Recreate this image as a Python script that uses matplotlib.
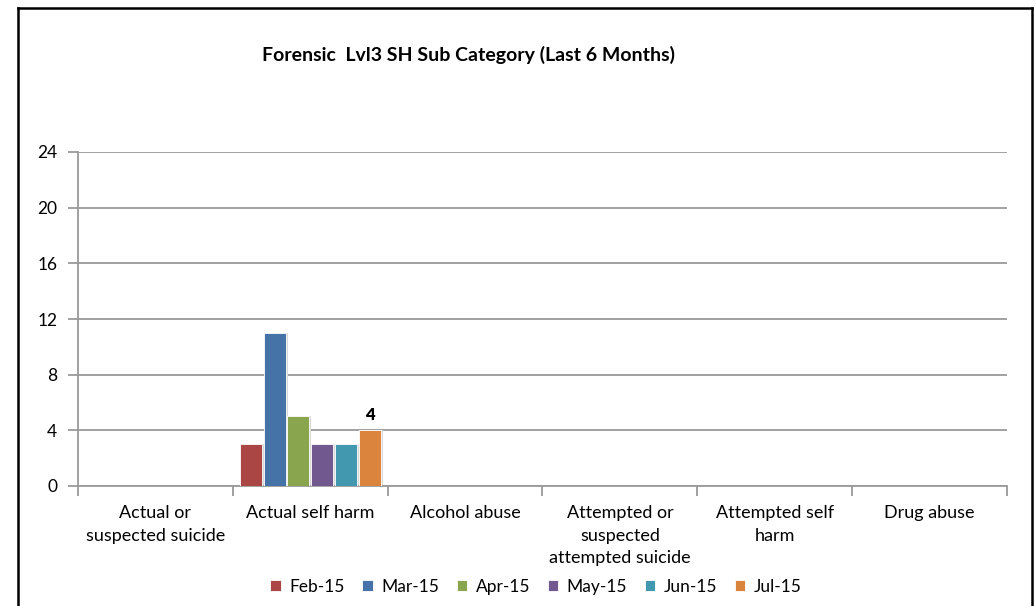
import matplotlib
matplotlib.use("Agg")
import matplotlib.pyplot as plt
from matplotlib.lines import Line2D
import numpy as np

plt.rcParams['font.family'] = ['Lato', 'DejaVu Sans']

categories = ["Actual or\nsuspected suicide", "Actual self harm", "Alcohol abuse",
              "Attempted or\nsuspected\nattempted suicide", "Attempted self\nharm", "Drug abuse"]
months = ["Feb-15", "Mar-15", "Apr-15", "May-15", "Jun-15", "Jul-15"]
values = {
    "Feb-15": [0, 3, 0, 0, 0, 0],
    "Mar-15": [0, 11, 0, 0, 0, 0],
    "Apr-15": [0, 5, 0, 0, 0, 0],
    "May-15": [0, 3, 0, 0, 0, 0],
    "Jun-15": [0, 3, 0, 0, 0, 0],
    "Jul-15": [0, 4, 0, 0, 0, 0],
}
colors = ["#AA4643", "#4572A7", "#89A54E", "#71588F", "#4198AF", "#DB843D"]
yticks = [0, 4, 8, 12, 16, 20, 24]

fig = plt.figure(figsize=(10.36, 6.06), dpi=100)
ax = fig.add_axes([78/1036, 1-486/606, (1007-78)/1036, (486-152)/606])

n = len(months)
group_w = 0.92
bw = group_w / n
x = np.arange(len(categories))
for i, m in enumerate(months):
    pos = x - group_w/2 + bw*(i+0.5)
    vals = values[m]
    ax.bar(pos + 0.012, vals, width=bw*0.93, color="#d8d8d8", zorder=2)
    ax.bar(pos, vals, width=bw*0.93, color=colors[i], edgecolor="white",
           linewidth=0.6, zorder=3, label=m)
    if m == "Jul-15":
        for p, v in zip(pos, vals):
            if v > 0:
                ax.text(p, v + 0.55, str(v), ha="center", va="bottom",
                        fontsize=12, fontweight="heavy", zorder=4)

ax.set_xlim(-0.5, len(categories) - 0.5)
ax.set_ylim(0, 24)
ax.set_yticks(yticks)
ax.yaxis.grid(True, color="#9a9a9a", linewidth=1.3, zorder=0)
ax.set_axisbelow(True)
for s in ["top", "right"]:
    ax.spines[s].set_visible(False)
ax.spines["left"].set_color("#9a9a9a")
ax.spines["bottom"].set_color("#9a9a9a")
ax.spines["left"].set_linewidth(1.3)
ax.spines["bottom"].set_linewidth(1.3)
ax.tick_params(axis="y", length=7, color="#9a9a9a", width=1.3, labelsize=12.5, pad=8)
ax.set_xticks(x)
ax.set_xticklabels(categories, fontsize=13, linespacing=1.5, va="top")
ax.tick_params(axis="x", length=0, pad=14)
ax.set_xticks(np.arange(-0.5, len(categories)), minor=True)
ax.tick_params(axis="x", which="minor", length=7, color="#9a9a9a", width=1.3)

fig.text(468/1036, 1-55/606, "Forensic  Lvl3 SH Sub Category (Last 6 Months)",
         ha="center", va="center", fontsize=14, fontweight="bold")

fig.legend(loc="center", bbox_to_anchor=(536/1036, 1-587/606), ncol=6,
           frameon=False, fontsize=12.5, handlelength=0.6, handleheight=0.6,
           handletextpad=0.5, columnspacing=1.0)

lc = "black"
fig.add_artist(Line2D([18/1036, 1032/1036], [1-8/606, 1-8/606], color=lc, linewidth=1.8))
fig.add_artist(Line2D([18/1036, 18/1036], [0, 1-8/606], color=lc, linewidth=1.8))
fig.add_artist(Line2D([1032/1036, 1032/1036], [0, 1-8/606], color=lc, linewidth=1.8))

fig.savefig("out.png", dpi=100)
